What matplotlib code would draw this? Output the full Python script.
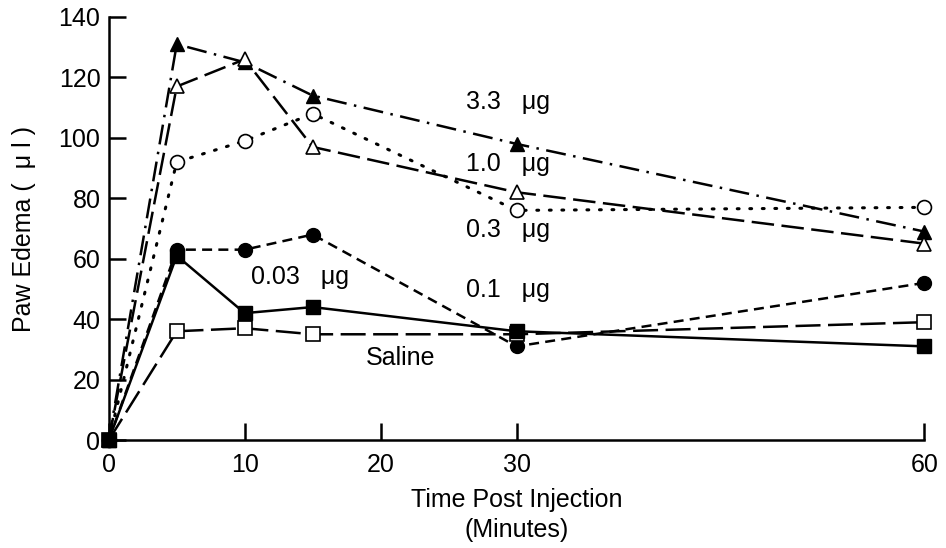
import matplotlib.pyplot as plt

plt.rcParams['font.family'] = ['Liberation Sans', 'DejaVu Sans']

# time points (minutes)
t = [0, 5, 10, 15, 30, 60]

# paw edema (ul) per dose
dose_33 = [0, 131, 125, 114, 98, 69]
dose_10 = [0, 117, 126, 97, 82, 65]
dose_03 = [0, 92, 99, 108, 76, 77]
dose_01 = [0, 63, 63, 68, 31, 52]
dose_003 = [0, 61, 42, 44, 36, 31]
saline = [0, 36, 37, 35, 35, 39]

x_ticks = [0, 10, 20, 30, 60]
y_ticks = [0, 20, 40, 60, 80, 100, 120, 140]

fig = plt.figure(figsize=(9.46, 5.48), dpi=100)
ax = fig.add_axes([0.115, 0.197, 0.862, 0.772])

lw = 1.8
ms = 10

ax.plot(t, dose_33, color="black", lw=lw, linestyle=(0, (8, 3, 1, 3)),
        marker="^", ms=ms, mfc="black", mec="black", clip_on=False, zorder=3)
ax.plot(t, dose_10, color="black", lw=lw, linestyle=(0, (9, 3)),
        marker="^", ms=ms, mfc="white", mec="black", mew=1.2, clip_on=False, zorder=4)
ax.plot(t, dose_03, color="black", lw=2.2, linestyle=(0, (0.6, 3.5)),
        dash_capstyle="round",
        marker="o", ms=ms, mfc="white", mec="black", mew=1.2, clip_on=False, zorder=3)
ax.plot(t, dose_01, color="black", lw=lw, linestyle=(0, (4, 2.5)),
        marker="o", ms=ms, mfc="black", mec="black", clip_on=False, zorder=3)
ax.plot(t, saline, color="black", lw=lw, linestyle=(0, (10, 3)),
        marker="s", ms=ms, mfc="white", mec="black", mew=1.2, clip_on=False, zorder=3)
ax.plot(t, dose_003, color="black", lw=lw, linestyle="-",
        marker="s", ms=ms, mfc="black", mec="black", clip_on=False, zorder=5)

# curve labels
fs = 18
ax.text(29.4, 112, "3.3   \u03bcg", fontsize=fs, ha="center", va="center")
ax.text(29.4, 91.5, "1.0   \u03bcg", fontsize=fs, ha="center", va="center")
ax.text(29.4, 69.5, "0.3   \u03bcg", fontsize=fs, ha="center", va="center")
ax.text(29.4, 49.5, "0.1   \u03bcg", fontsize=fs, ha="center", va="center")
ax.text(14.1, 54, "0.03   \u03bcg", fontsize=fs, ha="center", va="center")
ax.text(21.5, 27, "Saline", fontsize=fs, ha="center", va="center")

ax.set_xlim(0, 60)
ax.set_ylim(0, 140)
ax.set_xticks(x_ticks)
ax.set_yticks(y_ticks)
ax.tick_params(direction="in", length=12, width=1.8, labelsize=18)
ax.tick_params(axis="x", pad=9)
ax.tick_params(axis="y", pad=6)

for side in ["top", "right"]:
    ax.spines[side].set_visible(False)
for side in ["left", "bottom"]:
    ax.spines[side].set_linewidth(1.8)

ax.set_xlabel("Time Post Injection\n(Minutes)", fontsize=18, linespacing=1.35, labelpad=8)
ax.set_ylabel("Paw Edema (  \u03bc l )", fontsize=18, labelpad=16)

fig.savefig("out.png", dpi=100)
